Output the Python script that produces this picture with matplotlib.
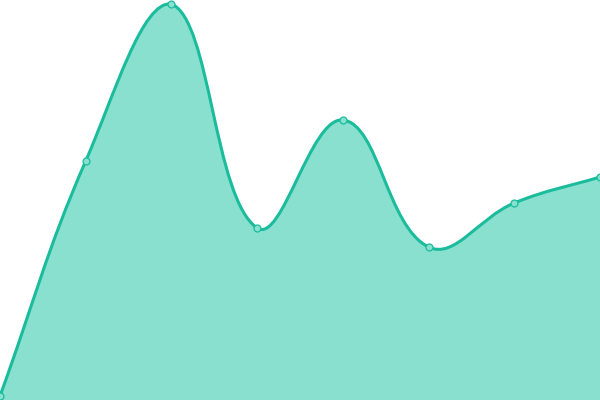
import numpy as np
import matplotlib
matplotlib.use("Agg")
import matplotlib.pyplot as plt
from matplotlib.path import Path
from matplotlib.patches import PathPatch

# values (bottom = 0, top = 400)
labels = ["a", "b", "c", "d", "e", "f", "g", "h"]
values = [4, 239, 396, 172, 280, 153, 197, 223]

line_color = "#1abc9c"
fill_color = "#8ae0cf"
W, H = 600, 400
tension = 0.4

fig = plt.figure(figsize=(6, 4), dpi=100)
ax = fig.add_axes([0, 0, 1, 1])
ax.set_xlim(0, len(values) - 1)
ax.set_ylim(0, 400)
ax.axis("off")

# spline control points like chart.js, worked out in pixel space
sx = W / (len(values) - 1)
sy = H / 400
px = np.arange(len(values)) * sx
py = np.array(values, dtype=float) * sy
n = len(px)
cps = []
for i in range(n):
    prev = np.array([px[max(i - 1, 0)], py[max(i - 1, 0)]])
    cur = np.array([px[i], py[i]])
    nxt = np.array([px[min(i + 1, n - 1)], py[min(i + 1, n - 1)]])
    d01 = np.hypot(*(cur - prev))
    d12 = np.hypot(*(nxt - cur))
    tot = d01 + d12
    s01 = d01 / tot if tot else 0
    s12 = d12 / tot if tot else 0
    c1 = cur - tension * s01 * (nxt - prev)
    c2 = cur + tension * s12 * (nxt - prev)
    # keep control points inside the chart area
    c1[1] = np.clip(c1[1], 0, H)
    c2[1] = np.clip(c2[1], 0, H)
    cps.append((c1, c2))

verts = [(px[0] / sx, py[0] / sy)]
codes = [Path.MOVETO]
for i in range(n - 1):
    a = cps[i][1]
    b = cps[i + 1][0]
    verts += [(a[0] / sx, a[1] / sy), (b[0] / sx, b[1] / sy), (px[i + 1] / sx, py[i + 1] / sy)]
    codes += [Path.CURVE4] * 3

fill_verts = verts + [(n - 1, 0), (0, 0), verts[0]]
fill_codes = codes + [Path.LINETO, Path.LINETO, Path.CLOSEPOLY]
ax.add_patch(PathPatch(Path(fill_verts, fill_codes), facecolor=fill_color, edgecolor="none"))
ax.add_patch(PathPatch(Path(verts, codes), facecolor="none", edgecolor=line_color, lw=2.2))

ax.plot(range(n), values, "o", ms=5, mfc=fill_color, mec=line_color, mew=0.9, clip_on=False)

fig.savefig("out.png", dpi=100)
